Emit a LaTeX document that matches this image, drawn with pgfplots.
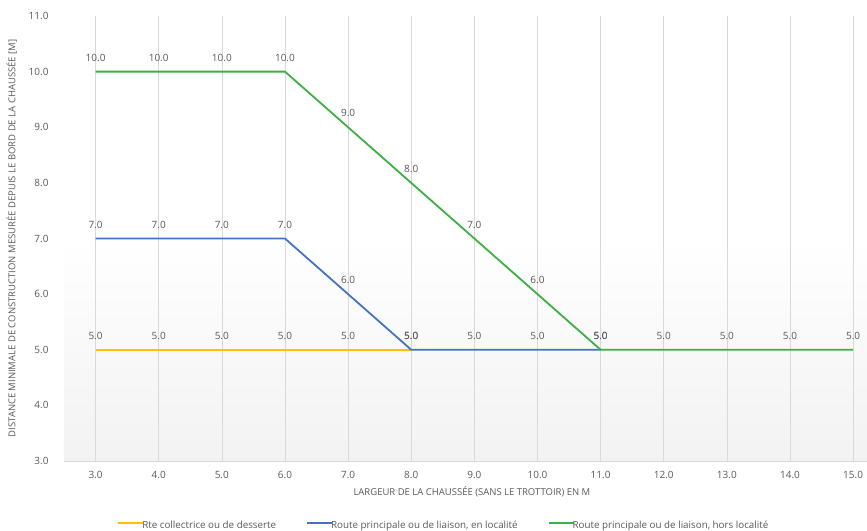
\documentclass[border=0pt]{standalone}
\usepackage{pgfplots}
\pgfplotsset{compat=1.18}
\usepackage{fontspec}
\setmainfont{Open Sans}
\definecolor{cyel}{HTML}{FFC000}
\definecolor{cblu}{HTML}{4472C4}
\definecolor{cgrn}{HTML}{3CB043}
\definecolor{ctxt}{HTML}{595959}
\definecolor{cgrid}{HTML}{D9D9D9}
\begin{document}
\begin{tikzpicture}
\path[use as bounding box] (0,0) rectangle (867bp,531bp);
\begin{axis}[
  at={(64bp,70bp)}, anchor=south west,
  scale only axis, width=803bp, height=445bp,
  xmin=2.5, xmax=15.22, ymin=3, ymax=11,
  xtick={3,...,15}, ytick={3,...,11},
  xticklabel={\pgfmathprintnumber[fixed,fixed zerofill,precision=1]{\tick}},
  yticklabel={\pgfmathprintnumber[fixed,fixed zerofill,precision=1]{\tick}},
  /pgf/number format/assume math mode=true,
  major tick length=0pt,
  axis x line*=bottom, axis y line*=left,
  y axis line style={draw=none},
  x axis line style={cgrid, line width=0.8pt, -},
  xmajorgrids, grid style={cgrid, line width=0.6pt},
  tick label style={font=\fontsize{10bp}{12bp}\selectfont, text=ctxt},
  yticklabel style={xshift=-12bp},
  xticklabel style={yshift=-7bp},
  xlabel={LARGEUR DE LA CHAUSSÉE (SANS LE TROTTOIR) EN M},
  ylabel={DISTANCE MINIMALE DE CONSTRUCTION MESURÉE DEPUIS LE BORD DE LA CHAUSSÉE [M]},
  label style={font=\fontsize{9.5bp}{10bp}\selectfont, text=ctxt},
  x label style={at={(axis description cs:0.508,-0.07)}, anchor=center},
  y label style={at={(axis description cs:-0.065,0.5)}, anchor=center},
  axis background/.style={shade, top color=white, bottom color=black!5, middle color=white},
  nodes near coords,
  point meta=y,
  nodes near coords style={font=\fontsize{10bp}{12bp}\selectfont, text=ctxt, anchor=south, yshift=6bp,
    /pgf/number format/.cd, fixed, fixed zerofill, precision=1, assume math mode=true},
  legend style={at={(0.473,-0.146)}, anchor=center, draw=none, fill=none,
    legend columns=3, font=\fontsize{9.8bp}{11bp}\selectfont, text=ctxt,
    /tikz/every even column/.append style={column sep=28bp}},
  legend image code/.code={\draw[#1, line width=2pt] (0bp,3bp) -- (25bp,3bp);},
  legend cell align=left,
  clip=false,
]
\addplot[cyel, line width=1.8pt, mark=none] coordinates {
 (3,5) (4,5) (5,5) (6,5) (7,5) (8,5)};
\addlegendentry{\hspace{-4bp}Rte collectrice ou de desserte}
\addplot[cblu, line width=1.8pt, mark=none] coordinates {
 (3,7) (4,7) (5,7) (6,7) (7,6) (8,5) (9,5) (10,5) (11,5)};
\addlegendentry{\hspace{-4bp}Route principale ou de liaison, en localité}
\addplot[cgrn, line width=1.8pt, mark=none] coordinates {
 (3,10) (4,10) (5,10) (6,10) (7,9) (8,8) (9,7) (10,6) (11,5) (12,5) (13,5) (14,5) (15,5)};
\addlegendentry{\hspace{-4bp}Route principale ou de liaison, hors localité}
\end{axis}
\end{tikzpicture}
\end{document}
